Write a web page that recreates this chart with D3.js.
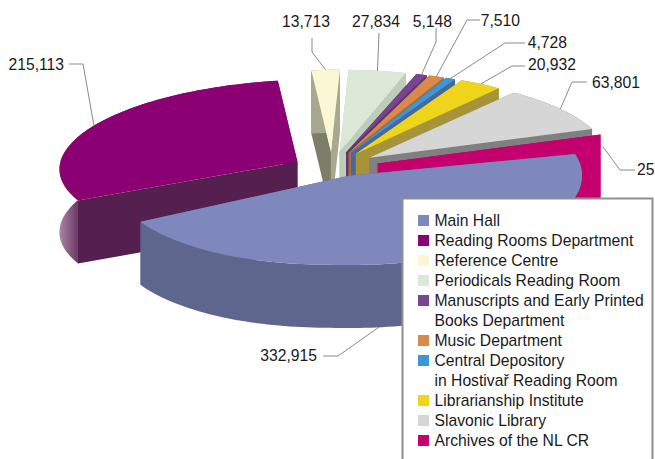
<!DOCTYPE html>
<html>
<head>
	<title>Visitors by department</title>
	<script src="https://d3js.org/d3.v7.min.js"></script>
	<style>
		html, body { margin: 0; padding: 0; background: #fff; }
		svg { display: block; }
		text { font-family: "Liberation Sans", Arial, sans-serif; font-size: 15.7px; fill: #1a1a1a; }
	</style>
</head>
<body>
<section id="container"></section>
<script>

//Data
var categories = ["Main Hall", "Reading Rooms Department", "Reference Centre", "Periodicals Reading Room", "Manuscripts and Early Printed Books Department", "Music Department", "Central Depository in Hostivař Reading Room", "Librarianship Institute", "Slavonic Library", "Archives of the NL CR"];
var values = [332915, 215113, 13713, 27834, 5148, 7510, 4728, 20932, 63801, 25000];
var valueLabels = ["332,915", "215,113", "13,713", "27,834", "5,148", "7,510", "4,728", "20,932", "63,801", "25"];

//Legend rows, some names wrap on two lines
var legendRows = [
	["Main Hall"],
	["Reading Rooms Department"],
	["Reference Centre"],
	["Periodicals Reading Room"],
	["Manuscripts and Early Printed", "Books Department"],
	["Music Department"],
	["Central Depository", "in Hostivař Reading Room"],
	["Librarianship Institute"],
	["Slavonic Library"],
	["Archives of the NL CR"]
];

//Colours: top face, wall at the start edge, wall at the end edge, rim wall
var topColors = ["#7f88bc", "#8b0073", "#fbf6d4", "#dce8d8", "#7a4490", "#d98a4a", "#3d96d8", "#eed51c", "#d6d6d6", "#c4006e"];
var startWalls = ["#5e668e", "#55204f", "#7e7e68", "#bccdb8", "#4e2c5e", "#94602f", "#3f5f92", "#a89438", "#808080", "#c4006e"];
var endWalls = ["#5e668e", "#55204f", "#a8a890", "#bccdb8", "#5e3670", "#a8703a", "#46689c", "#a89438", "#808080", "#c4006e"];
var rimWalls = ["#5e668e", "url(#rimGrad)", "#a8a890", "#bccdb8", "#5e3670", "#a8703a", "#46689c", "#a89438", "#808080", "#c4006e"];

//How each slice is pulled out and fitted to the picture
var sliceExplode = [0.25, 0.17, 0.2, 0.2, 0.2, 0.2, 0.2, 0.2, 0.2, 0.2];
var sliceRadiusX = [0.98, 1, 1, 1, 1, 1, 1, 1, 1, 1];
var sliceRadiusY = [1.09, 1, 1, 1, 1, 1, 1, 1, 1, 1];
var sliceRotate = [-4, 0, 0, 0, 1, 1, 1, 1.5, 2, 2];
var sliceLift = [-12, 0, 0, 0, 0, 0, 0, 0, 0, 0];

//Where labels and leader elbows sit: [text x, text y, anchor, elbow start x, elbow start y, elbow end x, elbow end y]
var labelLayout = [
	[317, 361, "end", 323, 356, 338, 356],
	[64, 70, "end", 69, 64, 83, 64],
	[330, 27, "end", 312, 38, 312, 52],
	[400, 27, "end", 379, 33, 379, 34],
	[452, 27, "end", 436, 28, 436, 42],
	[520, 26, "end", 480, 20, 467, 20],
	[567, 48, "end", 525, 43, 505, 43],
	[576, 70, "end", 525, 66, 512, 66],
	[640, 88, "end", 587, 82, 572, 82],
	[637, 175, "start", 635, 170, 620, 170]
];

var svgWidth = 655;
var svgHeight = 459;

var svg = d3.select("#container")
	.append("svg")
	.attr("width", svgWidth)
	.attr("height", svgHeight);

//Outer wall of the reading rooms slice fades to the left
var grad = svg.append("defs")
	.append("linearGradient")
	.attr("id", "rimGrad")
	.attr("gradientUnits", "userSpaceOnUse")
	.attr("x1", 59).attr("x2", 84).attr("y1", 0).attr("y2", 0);
grad.append("stop").attr("offset", 0).attr("stop-color", "#ad86a9");
grad.append("stop").attr("offset", 1).attr("stop-color", "#55204f");

//Pie geometry, flat disc squashed into an ellipse
var centerX = 332;
var centerY = 168;
var radiusX = 238;
var radiusY = 82;
var thickness = 63;
var tilt = 0.09;

var xScale = d3.scaleLinear().domain([-1, 1]).range([centerX - radiusX, centerX + radiusX]);
var yScale = d3.scaleLinear().domain([-1, 1]).range([centerY - radiusY, centerY + radiusY]);

var firstAngle = (90 - 10) * Math.PI / 180;
var pie = d3.pie().sort(null).startAngle(firstAngle).endAngle(firstAngle + 2 * Math.PI);
var slices = pie(values);

//Left half of the disc leans down a little
var project = function(u, v) {
	return [xScale(u), yScale(v - tilt * Math.min(u, 0))];
};

//Point on slice i: t = 0 at the apex, t = 1 on the rim
var pointOf = function(i, angle, t) {
	var d = slices[i];
	var mid = (d.startAngle + d.endAngle) / 2 - Math.PI / 2;
	var a = angle - Math.PI / 2 + sliceRotate[i] * Math.PI / 180;
	var p = project(
		sliceExplode[i] * Math.cos(mid) + t * sliceRadiusX[i] * Math.cos(a),
		sliceExplode[i] * Math.sin(mid) + t * sliceRadiusY[i] * Math.sin(a)
	);
	return [p[0], p[1] + sliceLift[i]];
};

var rimPoints = function(i) {
	var d = slices[i];
	var n = Math.max(2, Math.ceil((d.endAngle - d.startAngle) * 40));
	return d3.range(n + 1).map(function(k) {
		return pointOf(i, d.startAngle + (d.endAngle - d.startAngle) * k / n, 1);
	});
};

var line = d3.line();
var dropped = function(pts) {
	return pts.map(function(p) { return [p[0], p[1] + thickness]; });
};

//Archives slice is cut straight on its right side
var archivesCut = pointOf(9, slices[9].startAngle, 1)[0];
svg.select("defs").append("clipPath").attr("id", "archivesClip")
	.append("rect")
	.attr("x", 0).attr("y", 0)
	.attr("width", archivesCut).attr("height", svgHeight);

//Paint from the back of the picture to the front
var drawOrder = [2, 3, 4, 5, 6, 7, 8, 9, 1, 0];

drawOrder.forEach(function(i) {
	var d = slices[i];
	var g = svg.append("g");
	if (i === 9) g.attr("clip-path", "url(#archivesClip)");

	var apex = pointOf(i, d.startAngle, 0);
	var rim = rimPoints(i);
	var first = rim[0];
	var last = rim[rim.length - 1];

	//two radial walls, the rear one goes first
	var walls = [
		{ edge: first, color: startWalls[i] },
		{ edge: last, color: endWalls[i] }
	].sort(function(a, b) { return a.edge[1] - b.edge[1]; });

	walls.forEach(function(w) {
		g.append("path")
			.attr("d", line([apex, w.edge].concat(dropped([w.edge, apex]))) + "Z")
			.attr("fill", w.color);
	});

	//rim wall
	g.append("path")
		.attr("d", line(rim.concat(dropped(rim).reverse())) + "Z")
		.attr("fill", rimWalls[i]);

	//top face
	g.append("path")
		.attr("d", line([apex].concat(rim)) + "Z")
		.attr("fill", topColors[i]);
});

//Leaders and value labels
slices.forEach(function(d, i) {
	var l = labelLayout[i];
	var mid = (d.startAngle + d.endAngle) / 2;
	var tip = pointOf(i, mid, 1);
	if (i === 0) {
		//main hall leader lands on the front wall, left of the legend
		tip = pointOf(i, mid + 13 * Math.PI / 180, 1);
		tip = [tip[0], tip[1] + thickness];
	}
	if (i === 9) tip = [archivesCut + 2, tip[1] + 3];
	svg.append("path")
		.attr("d", line([[l[3], l[4]], [l[5], l[6]], tip]))
		.attr("fill", "none")
		.attr("stroke", "#8a8a8a")
		.attr("stroke-width", 1);
	svg.append("text")
		.attr("x", l[0])
		.attr("y", l[1])
		.attr("text-anchor", l[2])
		.text(valueLabels[i]);
});

//Legend
var legend = svg.append("g");
legend.append("rect")
	.attr("x", 402.5)
	.attr("y", 198.5)
	.attr("width", 250)
	.attr("height", 270)
	.attr("fill", "#fff")
	.attr("stroke", "#8f8f8f")
	.attr("stroke-width", 2);

var rowY = d3.scaleLinear().domain([0, 1]).range([225.5, 245.5]);
var lineIndex = 0;
legendRows.forEach(function(row, i) {
	legend.append("rect")
		.attr("x", 418)
		.attr("y", rowY(lineIndex) - 10.5)
		.attr("width", 11)
		.attr("height", 11)
		.attr("fill", topColors[i]);
	row.forEach(function(txt) {
		legend.append("text")
			.attr("x", 434.5)
			.attr("y", rowY(lineIndex))
			.text(txt);
		lineIndex++;
	});
});

</script>
</body>
</html>
